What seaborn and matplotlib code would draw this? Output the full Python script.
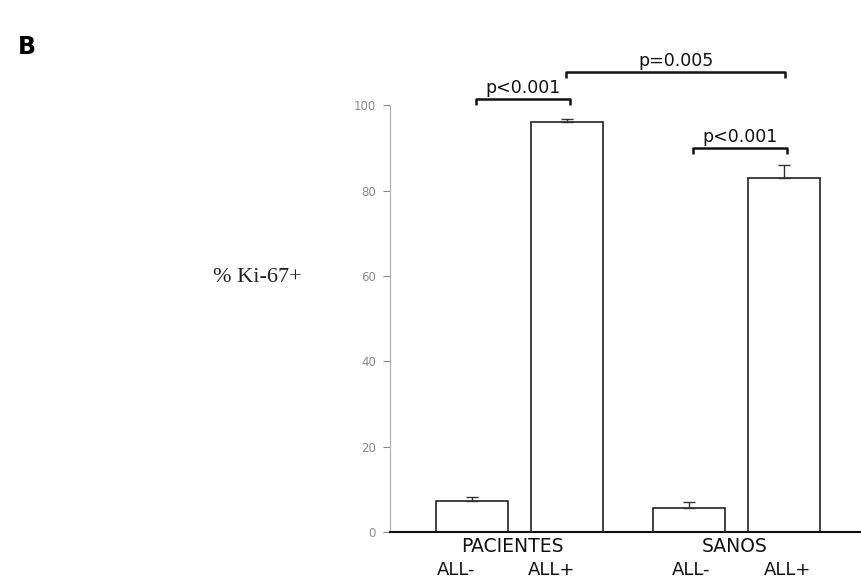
import matplotlib
matplotlib.use("Agg")
import matplotlib.pyplot as plt
import seaborn as sns
import pandas as pd
import numpy as np

groups = ["PACIENTES", "PACIENTES", "SANOS", "SANOS"]
subgroups = ["ALL-", "ALL+", "ALL-", "ALL+"]
group_names = ["PACIENTES", "SANOS"]
means = [7.3, 96.0, 5.6, 82.9]
errs = [0.9, 0.7, 1.4, 3.0]
yticks = [0, 20, 40, 60, 80, 100]
comparisons = [
    # (bar index a, bar index b, bracket y, label)
    (0, 1, 101.4, "p<0.001"),
    (2, 3, 89.9, "p<0.001"),
    (1, 3, 107.7, "p=0.005"),
]

df = pd.DataFrame({"grupo": groups, "sub": subgroups, "val": means})

sns.set_style("white")
fig = plt.figure(figsize=(8.62, 5.84), dpi=100)
W, H = 862, 584
ax = fig.add_axes([390 / W, 52 / H, (862 - 390) / W, 512 / H])

sns.barplot(data=df, x="grupo", y="val", hue="sub", hue_order=["ALL-", "ALL+"],
            width=0.876, gap=0.242, palette=["white", "white"], edgecolor="#222222",
            linewidth=1.2, errorbar=None, legend=False, ax=ax)

patches = [p for p in ax.patches if p.get_height() > 0]
centers = {}
for p in patches:
    cx = p.get_x() + p.get_width() / 2
    h = p.get_height()
    for i, m in enumerate(means):
        if abs(h - m) < 1e-6 and i not in centers:
            centers[i] = cx
            break
xs = [centers[i] for i in range(len(means))]

ax.errorbar(xs, means, yerr=[np.zeros(len(errs)), errs], fmt="none",
            ecolor="#333333", elinewidth=1.0, capsize=4, capthick=1.0, zorder=3)

ax.set_ylim(0, 120)
ax.set_xlim(-0.597, 1.578)
ax.set_yticks(yticks)
ax.set_yticklabels([str(t) for t in yticks], color="#8a8a8a", fontsize=8.5)
ax.tick_params(axis="y", direction="out", length=5, width=0.8, color="#888888", pad=5, left=True)
ax.set_xticks([0, 1])
ax.set_xticklabels(["", ""])
ax.tick_params(axis="x", length=0)
ax.set_xlabel("")
ax.set_ylabel("")
for s in ["top", "right"]:
    ax.spines[s].set_visible(False)
ax.spines["left"].set_bounds(0, 100)
ax.spines["left"].set_color("#aaaaaa")
ax.spines["left"].set_linewidth(0.8)
ax.spines["bottom"].set_color("#111111")
ax.spines["bottom"].set_linewidth(1.5)

# group labels
group_shift = [-0.032, -0.007]
for gi, (g, d) in enumerate(zip(group_names, group_shift)):
    ax.text(gi + d, -3.3, g, ha="center", va="center", fontsize=13.5, color="#111111")

# sub labels
sub_shift = [-0.074, -0.07, 0.01, 0.018]
for x, s, d in zip(xs, subgroups, sub_shift):
    ax.text(x + d, -9.0, s, ha="center", va="center", fontsize=13, color="#111111")

# significance brackets
for a, b, y, lab in comparisons:
    if a in (0, 2):
        xa = xs[a] + 0.02
        xb = xs[b] + 0.015
    else:
        xa = xs[a] - 0.005
        xb = xs[b] + 0.005
    ax.plot([xa, xa, xb, xb], [y - 1.3, y, y, y - 1.3], color="#111111", lw=1.8,
            solid_capstyle="butt", clip_on=False)
    ax.text((xa + xb) / 2, y + 0.6, lab, ha="center", va="bottom", fontsize=12.5,
            color="#111111")

fig.text(213 / W, 1 - 277 / H, "% Ki-67+", family="Liberation Serif", fontsize=16,
         ha="left", va="center", color="#222222")
fig.text(18 / W, 1 - 47 / H, "B", fontweight="bold", fontsize=17, ha="left",
         va="center", color="black")

fig.savefig("out.png", dpi=100)
